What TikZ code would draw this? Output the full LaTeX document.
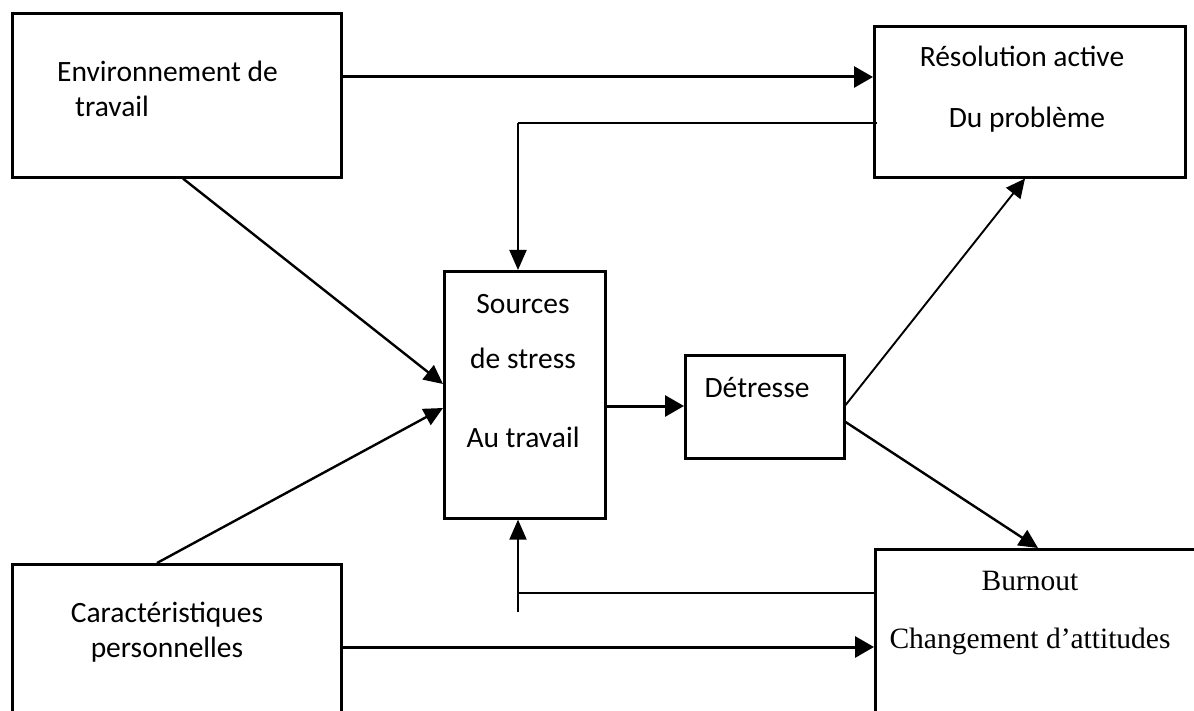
\documentclass[tikz,border=0pt]{standalone}
\usepackage{fontspec}
\setmainfont{Carlito}
\newfontfamily\serifrm{Liberation Serif}
\usetikzlibrary{arrows.meta}
\begin{document}
\begin{tikzpicture}[x=1pt,y=-1pt,
  box/.style={draw,line width=2.6pt,rectangle,inner sep=0pt,anchor=north west},
  lbl/.style={font=\fontsize{29.5}{34}\selectfont,inner sep=0pt},
  slbl/.style={font=\serifrm\fontsize{29.5}{34}\selectfont,inner sep=0pt},
  arr/.style={line width=3pt,-{Triangle[length=19pt,width=21pt]}},
  darr/.style={line width=2.4pt,-{Triangle[length=19pt,width=18pt]}},
  fb/.style={line width=1.9pt},
  fbarr/.style={line width=1.9pt,-{Triangle[length=20pt,width=17pt]}}]
\useasboundingbox (0,0) rectangle (1194,711);
\clip (0,0) rectangle (1194,711);
\fill[white] (0,0) rectangle (1194,711);
% boxes
\node[box,minimum width=329pt,minimum height=164pt] (A) at (11,12) {};
\node[box,minimum width=311pt,minimum height=151pt] (B) at (873,25) {};
\node[box,minimum width=161pt,minimum height=247pt] (C) at (443,270) {};
\node[box,minimum width=159pt,minimum height=103pt] (D) at (684,354) {};
\node[box,minimum width=329pt,minimum height=170pt] (E) at (11,563) {};
\node[box,minimum width=340pt,minimum height=180pt] (F) at (874,548) {};
% texts
\node[lbl,anchor=base west] (tA1) at (57,82) {Environnement de};
\node[lbl,anchor=base west] (tA2) at (75,117) {travail};
\node[lbl,anchor=base] (tB1) at (1022,67) {Résolution active};
\node[lbl,anchor=base] (tB2) at (1027,128) {Du problème};
\node[lbl,anchor=base] (tC1) at (523,313) {Sources};
\node[lbl,anchor=base] (tC2) at (523,368) {de stress};
\node[lbl,anchor=base] (tC3) at (523,447) {Au travail};
\node[lbl,anchor=base] (tD) at (757,397) {Détresse};
\node[lbl,anchor=base] (tE1) at (167,622) {Caractéristiques};
\node[lbl,anchor=base] (tE2) at (167,657) {personnelles};
\node[slbl,anchor=base] (tF1) at (1030,590) {Burnout};
\node[slbl,anchor=base] (tF2) at (1030,648) {Changement d’attitudes};
% levels / free ends
\coordinate (yAB) at (0,77);
\coordinate (yAC) at (0,384);
\coordinate (yEC) at (0,408);
\coordinate (yCD) at (0,406);
\coordinate (yDB) at (0,405);
\coordinate (yDF) at (0,422);
\coordinate (yEF) at (0,647);
\coordinate (yBfb) at (0,123);
\coordinate (yFfb) at (0,593);
\coordinate (xfb) at (518,0);
\coordinate (fbTop) at (518,123);
\coordinate (fbBot) at (518,593);
\coordinate (fbEnd) at (518,612);
% connectors
\draw[arr] (A.east |- yAB) -- (B.west |- yAB);
\draw[darr] ([xshift=172pt]A.south west) -- (C.west |- yAC);
\draw[darr] ([xshift=146pt]E.north west) -- (C.west |- yEC);
\draw[arr] (C.east |- yCD) -- (D.west |- yCD);
\draw[darr,line width=1.9pt] (D.east |- yDB) -- ([xshift=152pt]B.south west);
\draw[darr] (D.east |- yDF) -- ([xshift=164pt]F.north west);
\draw[arr] (E.east |- yEF) -- (F.west |- yEF);
\draw[fb] ([xshift=4pt]B.west |- yBfb) -- (fbTop);
\draw[fbarr] (fbTop) -- (C.north -| xfb);
\draw[fb] (F.west |- yFfb) -- (fbBot);
\draw[fbarr] (fbEnd) -- (C.south -| xfb);
\end{tikzpicture}
\end{document}
